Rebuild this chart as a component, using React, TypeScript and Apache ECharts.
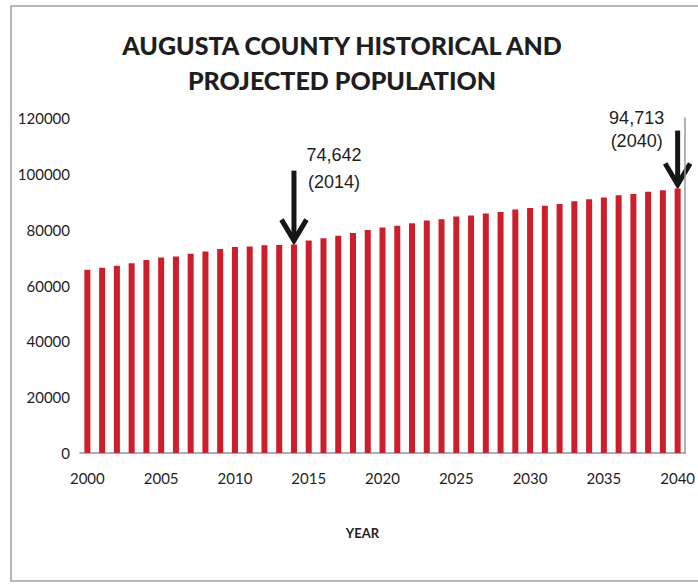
import React, { useEffect, useRef } from 'react';
import * as echarts from 'echarts';

const years = [
  '2000', '2001', '2002', '2003', '2004', '2005', '2006', '2007', '2008', '2009',
  '2010', '2011', '2012', '2013', '2014', '2015', '2016', '2017', '2018', '2019',
  '2020', '2021', '2022', '2023', '2024', '2025', '2026', '2027', '2028', '2029',
  '2030', '2031', '2032', '2033', '2034', '2035', '2036', '2037', '2038', '2039',
  '2040',
];

const population = [
  65615, 66400, 67100, 68000, 69100, 70000, 70400, 71400, 72200, 73100,
  73750, 74000, 74400, 74500, 74642, 76100, 76900, 77800, 78800, 79900,
  80800, 81400, 82300, 83300, 83700, 84700, 85100, 85800, 86300, 87200,
  87800, 88600, 89200, 90200, 90900, 91500, 92300, 92800, 93600, 94100,
  94713,
];

const titleLines = ['AUGUSTA COUNTY HISTORICAL AND', 'PROJECTED POPULATION'];
const xAxisTitle = 'YEAR';

const callouts = [
  { year: '2014', value: 74642, label: '74,642', sub: '(2014)' },
  { year: '2040', value: 94713, label: '94,713', sub: '(2040)' },
];

export default function App() {
  const ref = useRef<HTMLDivElement>(null);

  useEffect(() => {
    if (!ref.current) return;
    const chart = echarts.init(ref.current, null, { renderer: 'svg' });
    const option: any = {
      animation: false,
      backgroundColor: '#ffffff',
      title: {
        text: titleLines.join('\n'),
        left: 337,
        top: 22,
        textAlign: 'center',
        textStyle: {
          fontFamily: 'Lato',
          fontWeight: 900,
          fontSize: 25,
          lineHeight: 35,
          color: '#1e1e1e',
        },
      },
      grid: { left: 80, right: 9, top: 118, bottom: 131 },
      xAxis: {
        type: 'category',
        data: years,
        name: xAxisTitle,
        nameLocation: 'middle',
        nameGap: 73,
        nameTextStyle: {
          fontFamily: 'Lato',
          fontWeight: 'bold',
          fontSize: 13,
          color: '#222',
          padding: [0, 40, 0, 0],
        },
        axisLine: { show: true, lineStyle: { color: '#8797aa', width: 1.5 } },
        axisTick: { show: false },
        axisLabel: {
          interval: 4,
          margin: 17,
          fontFamily: 'Lato',
          fontSize: 15,
          color: '#1e1e1e',
        },
        splitLine: { show: false },
      },
      yAxis: [
        {
          type: 'value',
          min: 0,
          max: 120000,
          interval: 20000,
          axisLine: { show: false },
          axisTick: { show: false },
          splitLine: { show: false },
          axisLabel: {
            margin: 10,
            fontFamily: 'Lato',
            fontSize: 15,
            color: '#1e1e1e',
            formatter: (v: number) => String(v),
          },
        },
        {
          type: 'value',
          position: 'right',
          min: 0,
          max: 120000,
          interval: 20000,
          axisLine: { show: true, lineStyle: { color: '#9a9a9a', width: 1.5 } },
          axisTick: { show: false },
          axisLabel: { show: false },
          splitLine: { show: false },
        },
      ],
      series: [
        {
          type: 'bar',
          data: population,
          barWidth: 6,
          itemStyle: { color: '#cc1e2b' },
        },
      ],
      graphic: [
        {
          id: 'frame',
          type: 'rect',
          shape: { x: 11, y: 6, width: 700, height: 575 },
          style: { fill: 'none', stroke: '#a0a0a0', lineWidth: 1.5 },
          silent: true,
        },
      ],
    };
    chart.setOption(option);

    const extra: any[] = [];
    callouts.forEach((c, i) => {
      const p = chart.convertToPixel({ seriesIndex: 0 }, [c.year, c.value]) as number[];
      const x = p[0];
      const top = p[1];
      const tipY = top - 2;
      const shaftLen = i === 0 ? 72 : 56;
      extra.push({
        id: 'shaft' + i,
        type: 'line',
        shape: { x1: x, y1: tipY - shaftLen, x2: x, y2: tipY - 4 },
        style: { stroke: '#161616', lineWidth: 5 },
        silent: true,
      });
      extra.push({
        id: 'head' + i,
        type: 'polyline',
        shape: { points: [[x - 12.5, tipY - 23], [x, tipY - 2], [x + 12.5, tipY - 23]] },
        style: { stroke: '#161616', lineWidth: 5, fill: 'none', lineJoin: 'miter' },
        silent: true,
      });
      const tx = i === 0 ? x + 40 : x - 41;
      const ty1 = i === 0 ? top - 90 : top - 71;
      const gap = i === 0 ? 27 : 23;
      extra.push({
        id: 'lab' + i,
        type: 'text',
        style: {
          x: tx,
          y: ty1,
          text: c.label,
          align: 'center',
          verticalAlign: 'middle',
          fontFamily: 'Liberation Sans',
          fontSize: 18,
          fill: '#1e1e1e',
        },
        silent: true,
      });
      extra.push({
        id: 'sub' + i,
        type: 'text',
        style: {
          x: tx,
          y: ty1 + gap,
          text: c.sub,
          align: 'center',
          verticalAlign: 'middle',
          fontFamily: 'Liberation Sans',
          fontSize: 18,
          fill: '#1e1e1e',
        },
        silent: true,
      });
    });
    chart.setOption({ graphic: extra });

    return () => chart.dispose();
  }, []);

  return <div ref={ref} style={{ width: 698, height: 584, position: 'absolute', left: 0, top: 0 }} />;
}
